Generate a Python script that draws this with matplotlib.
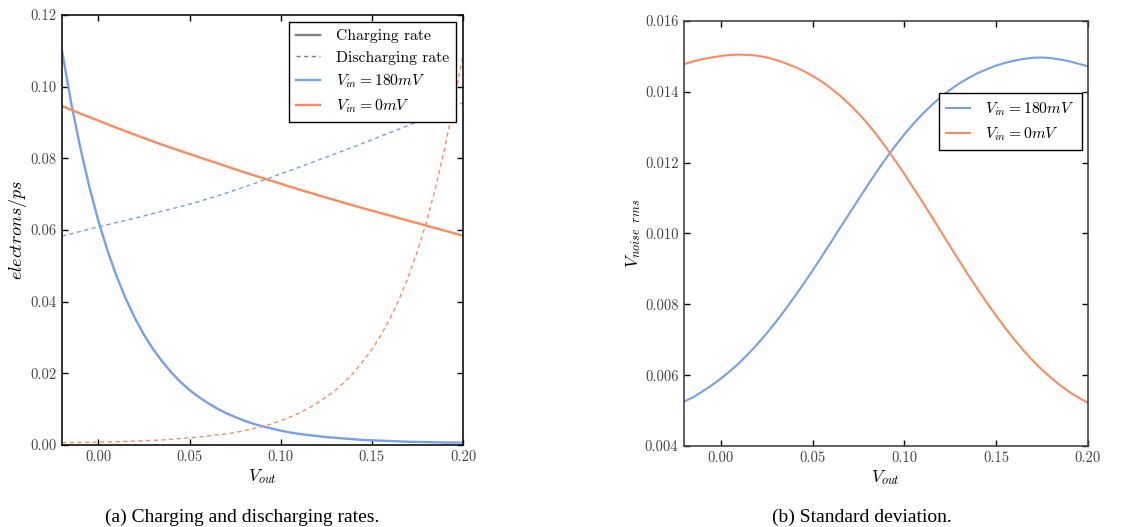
import matplotlib
matplotlib.use("Agg")
import matplotlib.pyplot as plt

plt.rcParams['mathtext.fontset'] = 'cm'
plt.rcParams['font.family'] = ['cmr10', 'DejaVu Sans']
plt.rcParams['axes.formatter.use_mathtext'] = True

# ---------------- data: panel (a) ----------------
vout_fine = [-0.020, -0.015, -0.010, -0.005, 0.000, 0.005, 0.010, 0.015, 0.020, 0.025,
             0.030, 0.035, 0.040, 0.045, 0.050, 0.055, 0.060, 0.065, 0.070, 0.075,
             0.080, 0.085, 0.090, 0.095, 0.100, 0.105, 0.110, 0.115, 0.120, 0.125,
             0.130, 0.135, 0.140, 0.145, 0.150, 0.155, 0.160, 0.165, 0.170, 0.175,
             0.180, 0.185, 0.190, 0.195, 0.200]
charge_180 = [0.1100, 0.0955, 0.0830, 0.0720, 0.0624, 0.0542, 0.0470, 0.0408, 0.0354, 0.0307,
              0.0267, 0.0233, 0.0202, 0.0176, 0.0153, 0.0134, 0.0117, 0.0102, 0.0089, 0.0078,
              0.0068, 0.0059, 0.0052, 0.0046, 0.0040, 0.0035, 0.0031, 0.0028, 0.0025, 0.0022,
              0.0020, 0.0018, 0.0016, 0.0014, 0.0013, 0.0012, 0.0011, 0.0010, 0.0009, 0.00085,
              0.0008, 0.00075, 0.0007, 0.00068, 0.00065]
discharge_0 = [0.00065, 0.00068, 0.0007, 0.00075, 0.0008, 0.00085, 0.0009, 0.0010, 0.0011, 0.0012,
               0.0013, 0.0014, 0.0016, 0.0018, 0.0020, 0.0022, 0.0025, 0.0028, 0.0031, 0.0035,
               0.0040, 0.0046, 0.0052, 0.0059, 0.0068, 0.0078, 0.0089, 0.0102, 0.0117, 0.0134,
               0.0153, 0.0176, 0.0202, 0.0233, 0.0267, 0.0307, 0.0354, 0.0408, 0.0470, 0.0542,
               0.0624, 0.0720, 0.0830, 0.0955, 0.1090]

vout = [-0.02, -0.01, 0.00, 0.01, 0.02, 0.03, 0.04, 0.05, 0.06, 0.07, 0.08, 0.09,
        0.10, 0.11, 0.12, 0.13, 0.14, 0.15, 0.16, 0.17, 0.18, 0.19, 0.20]
discharge_180 = [0.0583, 0.0596, 0.0609, 0.0621, 0.0633, 0.0646, 0.0659, 0.0672, 0.0687, 0.0703,
                 0.0720, 0.0738, 0.0757, 0.0775, 0.0794, 0.0813, 0.0832, 0.0852, 0.0872, 0.0892,
                 0.0913, 0.0934, 0.0955]
charge_0 = [0.0946, 0.0925, 0.0905, 0.0885, 0.0866, 0.0847, 0.0829, 0.0812, 0.0795, 0.0778,
            0.0761, 0.0745, 0.0729, 0.0713, 0.0698, 0.0683, 0.0668, 0.0654, 0.0640, 0.0626,
            0.0612, 0.0598, 0.0584]

# ---------------- data: panel (b) ----------------
noise_180 = [0.00525, 0.00538, 0.00554, 0.00571, 0.00590, 0.00611, 0.00634, 0.00660, 0.00688, 0.00718,
             0.00750, 0.00784, 0.00820, 0.00857, 0.00895, 0.00935, 0.00975, 0.01016, 0.01056, 0.01096,
             0.01136, 0.01175, 0.01212, 0.01247, 0.01280, 0.01310, 0.01338, 0.01363, 0.01386, 0.01406,
             0.01424, 0.01439, 0.01453, 0.01464, 0.01474, 0.01482, 0.01488, 0.01493, 0.01496, 0.01497,
             0.01495, 0.01491, 0.01486, 0.01479, 0.01472]
noise_0 = [0.01478, 0.01486, 0.01492, 0.01497, 0.01501, 0.01504, 0.01505, 0.01504, 0.01502, 0.01497,
           0.01490, 0.01481, 0.01471, 0.01459, 0.01445, 0.01429, 0.01410, 0.01389, 0.01365, 0.01339,
           0.01310, 0.01278, 0.01243, 0.01206, 0.01168, 0.01128, 0.01088, 0.01047, 0.01005, 0.00963,
           0.00922, 0.00881, 0.00842, 0.00804, 0.00768, 0.00733, 0.00700, 0.00669, 0.00641, 0.00615,
           0.00592, 0.00571, 0.00552, 0.00536, 0.00522]

xticks = [0.00, 0.05, 0.10, 0.15, 0.20]
yticks_a = [0.00, 0.02, 0.04, 0.06, 0.08, 0.10, 0.12]
yticks_b = [0.004, 0.006, 0.008, 0.010, 0.012, 0.014, 0.016]

labels_series = [r'$V_{in} = 180mV$', r'$V_{in} = 0mV$']
labels_rate = ['Charging rate', 'Discharging rate']
caption_a = '(a) Charging and discharging rates.'
caption_b = '(b) Standard deviation.'

BLUE = '#74a0ef'
ORANGE = '#ff8a5e'
GRAY = '#808080'
TICKC = '#444444'
DASH = (3, 2.5)

fig = plt.figure(figsize=(11.30, 5.27), dpi=100)
ax1 = fig.add_axes([0.0549, 0.1556, 0.3549, 0.8159])
ax2 = fig.add_axes([0.6053, 0.1537, 0.3575, 0.8065])

def style(ax, yt, fmt, spc):
    ax.set_xlim(-0.02, 0.20)
    ax.set_xticks(xticks)
    ax.set_xticklabels(['%.2f' % v for v in xticks])
    ax.set_yticks(yt)
    ax.set_yticklabels([fmt % v for v in yt])
    ax.tick_params(direction='in', top=True, right=True, length=4, width=1,
                   labelsize=10.5, labelcolor=TICKC, pad=4)
    for s in ax.spines.values():
        s.set_linewidth(1.2)
        s.set_color(spc)
    ax.set_xlabel(r'$V_{out}$', fontsize=12.5, labelpad=2)

# panel (a)
ax1.plot(vout_fine, charge_180, color=BLUE, lw=1.7)
ax1.plot(vout, discharge_180, color=BLUE, lw=1.0, dashes=DASH)
ax1.plot(vout, charge_0, color=ORANGE, lw=1.7)
ax1.plot(vout_fine, discharge_0, color=ORANGE, lw=1.0, dashes=DASH)
ax1.set_ylim(0.0, 0.12)
style(ax1, yticks_a, '%.2f', '#111111')
ax1.set_ylabel(r'$electrons/ps$', fontsize=13, labelpad=1)

h1 = [plt.Line2D([], [], color=GRAY, lw=1.7),
      plt.Line2D([], [], color=GRAY, lw=1.0, dashes=DASH),
      plt.Line2D([], [], color=BLUE, lw=1.7),
      plt.Line2D([], [], color=ORANGE, lw=1.7)]
leg1 = ax1.legend(h1, labels_rate + labels_series,
                  loc='upper right', fontsize=11.3, frameon=True, fancybox=False,
                  edgecolor='black', framealpha=1, handlelength=1.5, handletextpad=1.0,
                  borderaxespad=0.45, labelspacing=0.48, borderpad=0.45)
leg1.get_frame().set_linewidth(1.0)

# panel (b)
ax2.plot(vout_fine, noise_180, color=BLUE, lw=1.5, label=labels_series[0])
ax2.plot(vout_fine, noise_0, color=ORANGE, lw=1.5, label=labels_series[1])
ax2.set_ylim(0.004, 0.016)
style(ax2, yticks_b, '%.3f', '#444444')
ax2.set_ylabel(r'$V_{noise\ \ rms}$', fontsize=12.5, labelpad=1)
leg2 = ax2.legend(loc='upper right', bbox_to_anchor=(0.985, 0.83), fontsize=11.3,
                  frameon=True, fancybox=False, edgecolor='black', framealpha=1,
                  handlelength=1.5, handletextpad=1.0, borderaxespad=0.0,
                  labelspacing=0.45, borderpad=0.45)
leg2.get_frame().set_linewidth(1.0)

fig.text(0.2141, 0.019, caption_a, ha='center', va='center', fontsize=14,
         family=['Liberation Serif', 'DejaVu Serif'])
fig.text(0.763, 0.019, caption_b, ha='center', va='center', fontsize=14,
         family=['Liberation Serif', 'DejaVu Serif'])

fig.savefig('out.png', dpi=100)
